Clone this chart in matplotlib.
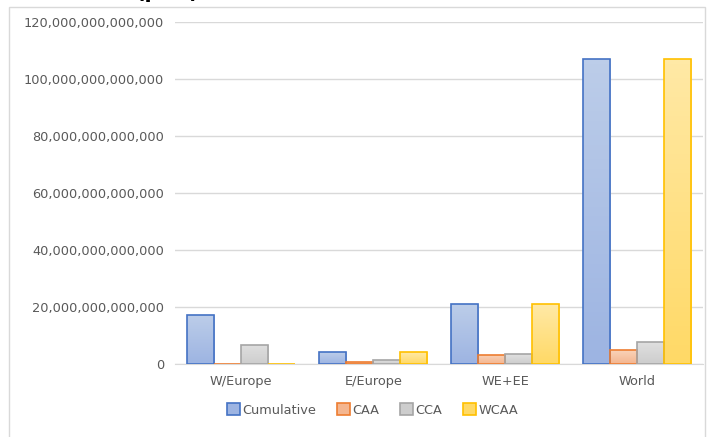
import matplotlib.pyplot as plt
import numpy as np
from matplotlib.patches import Rectangle
from matplotlib.colors import LinearSegmentedColormap
from matplotlib.ticker import FuncFormatter

regions = ["W/Europe", "E/Europe", "WE+EE", "World"]
series = ["Cumulative", "CAA", "CCA", "WCAA"]
cumulative = [17.1e12, 4.2e12, 21.0e12, 106.8e12]
caa = [0.15e12, 0.7e12, 3.2e12, 4.9e12]
cca = [6.7e12, 1.3e12, 3.5e12, 7.8e12]
wcaa = [0.15e12, 4.2e12, 21.0e12, 106.8e12]
y_ticks = [0, 20e12, 40e12, 60e12, 80e12, 100e12, 120e12]

# (top colour, bottom colour) of the gradient fills, and edge colours
fills = [("#bccde9", "#9db4e2"), ("#f9d2b8", "#f4b690"),
         ("#e0e0e0", "#cdcdcd"), ("#ffe9a6", "#ffd966")]
edges = ["#4472c4", "#ed7d31", "#a5a5a5", "#ffc000"]

plt.rcParams['font.family'] = ['DejaVu Sans']

fig = plt.figure(figsize=(7.09, 4.37), dpi=100)
ax = fig.add_axes([0.247, 0.167, 0.745, 0.783])

# chart border
fig.patches.append(Rectangle((9 / 709, -0.01), 696 / 709, 1 - 7 / 437 + 0.01,
                             transform=fig.transFigure, fill=False,
                             edgecolor="#d9d9d9", linewidth=1))

x = np.arange(len(regions))
w = 0.205
data = [cumulative, caa, cca, wcaa]
grad = np.linspace(0, 1, 64).reshape(-1, 1)
for i, vals in enumerate(data):
    bars = ax.bar(x + (i - 1.5) * w, vals, width=w, facecolor="none",
                  edgecolor=edges[i], linewidth=1.2, label=series[i], zorder=4)
    cmap = LinearSegmentedColormap.from_list(series[i], [fills[i][1], fills[i][0]])
    for b in bars:
        bx, by = b.get_x(), b.get_y()
        bw, bh = b.get_width(), b.get_height()
        im = ax.imshow(grad, cmap=cmap, origin="lower", aspect="auto",
                       extent=[bx, bx + bw, by, by + bh], zorder=3)
        im.set_clip_path(b)
    # legend proxy colour
    for b in bars:
        pass

ax.set_ylim(0, 120e12)
ax.set_xlim(-0.5, 3.5)
ax.set_aspect("auto")
ax.set_yticks(y_ticks)
ax.yaxis.set_major_formatter(FuncFormatter(lambda v, p: f"{v:,.0f}"))
ax.grid(axis="y", color="#d9d9d9", linewidth=1, zorder=0)
ax.set_xticks(x)
ax.set_xticklabels(regions)
for s in ["top", "right", "left"]:
    ax.spines[s].set_visible(False)
ax.spines["bottom"].set_color("#d9d9d9")
ax.tick_params(axis="both", length=0, colors="#595959", labelsize=9.3)
ax.tick_params(axis="y", pad=8)
ax.tick_params(axis="x", pad=8)

handles = [Rectangle((0, 0), 1, 1, facecolor=fills[i][1], edgecolor=edges[i],
                     linewidth=1.2) for i in range(4)]
fig.legend(handles, series, loc="center", bbox_to_anchor=(0.525, 0.062), ncol=4,
           frameon=False, fontsize=9.3, labelcolor="#595959", handlelength=1.0,
           handleheight=1.0, handletextpad=0.2, columnspacing=1.6)

# title, mostly cut off at the very top as in the source image
fig.text(167 / 709, 1 + 2 / 437, "(p.a.)", fontsize=15, fontweight="bold",
         ha="center", va="baseline", color="black")

fig.savefig("out.png", dpi=100)
